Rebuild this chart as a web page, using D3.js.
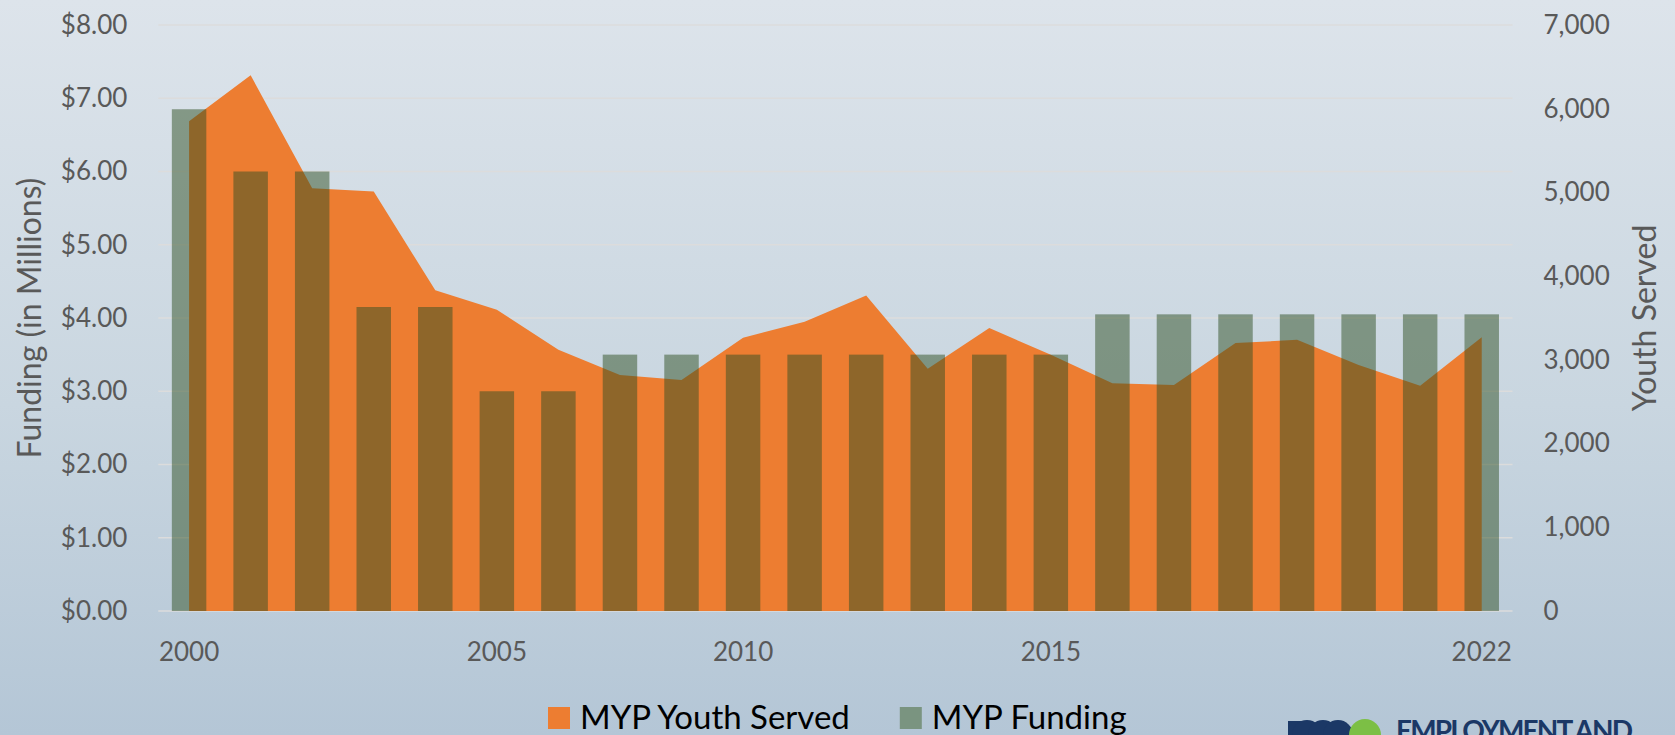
<!DOCTYPE html>
<head>
    <title>MYP Youth Served and Funding</title>
    <script src="https://cdnjs.cloudflare.com/ajax/libs/d3/7.8.5/d3.min.js"></script>
    <style>
        body { margin: 0; padding: 0; }
        svg { display: block; }
        .axis text { font-family: Lato, "Open Sans", sans-serif; font-size: 26px; fill: #595959; }
        .title { font-family: Lato, "Open Sans", sans-serif; font-size: 32px; fill: #595959; }
        .legend text { font-family: Lato, "Open Sans", sans-serif; font-size: 33px; fill: #000; }
    </style>
</head>
<body>
    <div id="chart"></div>
    <script type="text/javascript">
        // years on the category axis (one year missing between 2005 and 2010 in the source)
        const years = [2000, 2001, 2002, 2003, 2004, 2005, 2006, 2007, 2009, 2010, 2011,
                       2012, 2013, 2014, 2015, 2016, 2017, 2018, 2019, 2020, 2021, 2022];
        const tickYears = [2000, 2005, 2010, 2015, 2022];

        // MYP Youth Served (right axis)
        const youthServed = [5850, 6400, 5050, 5010, 3830, 3600, 3120, 2820, 2760, 3265, 3455,
                             3770, 2895, 3380, 3060, 2720, 2700, 3200, 3240, 2940, 2690, 3270];
        // MYP Funding in millions (left axis)
        const funding = [6.85, 6.00, 6.00, 4.15, 4.15, 3.00, 3.00, 3.50, 3.50, 3.50, 3.50,
                         3.50, 3.50, 3.50, 3.50, 4.05, 4.05, 4.05, 4.05, 4.05, 4.05, 4.05];

        const fundingTicks = [0, 1, 2, 3, 4, 5, 6, 7, 8];
        const youthTicks = [0, 1000, 2000, 3000, 4000, 5000, 6000, 7000];
        const seriesNames = ["MYP Youth Served", "MYP Funding"];

        const width = 1675;
        const height = 735;
        const plotLeft = 158.3;
        const plotRight = 1512.5;
        const plotTop = 25;
        const plotBottom = 611;

        const orange = "#ED7D31";
        const green = "rgb(48,80,35)";
        const navy = "#1b3866";

        const svg = d3.select("#chart")
            .append("svg")
            .attr("width", width)
            .attr("height", height);

        // background gradient
        const grad = svg.append("defs").append("linearGradient")
            .attr("id", "bg")
            .attr("x1", 0).attr("y1", 0).attr("x2", 0).attr("y2", 1);
        grad.append("stop").attr("offset", "0%").attr("stop-color", "#dde4eb");
        grad.append("stop").attr("offset", "55%").attr("stop-color", "#c9d6e0");
        grad.append("stop").attr("offset", "100%").attr("stop-color", "#b4c6d6");

        svg.append("rect")
            .attr("width", width)
            .attr("height", height)
            .attr("fill", "url(#bg)");

        // scales
        const xScale = d3.scaleBand()
            .domain(years)
            .range([plotLeft, plotRight])
            .paddingInner(0.44)
            .paddingOuter(0.22);
        const xMid = d => xScale(d) + xScale.bandwidth() / 2;

        const yLeft = d3.scaleLinear().domain([0, 8]).range([plotBottom, plotTop]);
        const yRight = d3.scaleLinear().domain([0, 7000]).range([plotBottom, plotTop]);

        // gridlines
        svg.append("g")
            .attr("class", "grid")
            .selectAll("line")
            .data(fundingTicks)
            .enter()
            .append("line")
            .attr("x1", plotLeft)
            .attr("x2", plotRight)
            .attr("y1", d => yLeft(d))
            .attr("y2", d => yLeft(d))
            .attr("stroke", "#dcdcdc")
            .attr("stroke-width", 1.5);

        // youth served area
        const area = d3.area()
            .x((d, i) => xMid(years[i]))
            .y0(yRight(0))
            .y1(d => yRight(d));

        svg.append("path")
            .datum(youthServed)
            .attr("d", area)
            .attr("fill", orange);

        // funding bars
        svg.append("g")
            .attr("class", "bars")
            .selectAll("rect")
            .data(funding)
            .enter()
            .append("rect")
            .attr("x", (d, i) => xScale(years[i]))
            .attr("y", d => yLeft(d))
            .attr("width", xScale.bandwidth())
            .attr("height", d => yLeft(0) - yLeft(d))
            .attr("fill", green)
            .attr("fill-opacity", 0.5);

        // axes
        const leftAxis = d3.axisLeft(yLeft)
            .tickValues(fundingTicks)
            .tickFormat(d3.format("$.2f"))
            .tickSize(0)
            .tickPadding(31);
        svg.append("g")
            .attr("class", "axis y-left")
            .attr("transform", "translate(" + plotLeft + ",0)")
            .call(leftAxis)
            .call(g => g.select(".domain").remove());

        const rightAxis = d3.axisRight(yRight)
            .tickValues(youthTicks)
            .tickFormat(d3.format(","))
            .tickSize(0)
            .tickPadding(31);
        svg.append("g")
            .attr("class", "axis y-right")
            .attr("transform", "translate(" + plotRight + ",0)")
            .call(rightAxis)
            .call(g => g.select(".domain").remove());

        const bottomAxis = d3.axisBottom(xScale)
            .tickValues(tickYears)
            .tickSize(0)
            .tickPadding(32);
        svg.append("g")
            .attr("class", "axis x")
            .attr("transform", "translate(0," + plotBottom + ")")
            .call(bottomAxis)
            .call(g => g.select(".domain").remove());

        // axis titles
        svg.append("text")
            .attr("class", "title")
            .attr("transform", "translate(30," + (plotTop + plotBottom) / 2 + ") rotate(-90)")
            .attr("text-anchor", "middle")
            .attr("dy", "0.35em")
            .text("Funding (in Millions)");

        svg.append("text")
            .attr("class", "title")
            .attr("transform", "translate(1645," + (plotTop + plotBottom) / 2 + ") rotate(-90)")
            .attr("text-anchor", "middle")
            .attr("dy", "0.35em")
            .text("Youth Served");

        // legend
        const legend = svg.append("g").attr("class", "legend");
        const legendColors = [orange, "#7a9480"];
        let lx = 548;
        seriesNames.forEach((name, i) => {
            legend.append("rect")
                .attr("x", lx)
                .attr("y", 707)
                .attr("width", 22)
                .attr("height", 22)
                .attr("fill", legendColors[i]);
            const t = legend.append("text")
                .attr("x", lx + 32)
                .attr("y", 729)
                .text(name);
            lx = lx + 32 + t.node().getComputedTextLength() + 50;
        });

        // logo (cut off at the bottom edge, as in the original)
        const logo = svg.append("g").attr("class", "logo");
        logo.append("rect")
            .attr("x", 1288).attr("y", 721).attr("width", 14).attr("height", 20)
            .attr("fill", navy);
        [1307, 1323, 1338].forEach(cx => {
            logo.append("circle")
                .attr("cx", cx).attr("cy", 735).attr("r", 15)
                .attr("fill", navy);
        });
        logo.append("circle")
            .attr("cx", 1365).attr("cy", 735).attr("r", 16)
            .attr("fill", "#7cbf45");
        logo.append("text")
            .attr("x", 1396)
            .attr("y", 741)
            .attr("textLength", 237)
            .attr("lengthAdjust", "spacing")
            .style("font-family", "Lato, sans-serif")
            .style("font-weight", "700")
            .style("font-size", "28px")
            .style("fill", navy)
            .text("EMPLOYMENT AND");
    </script>
</body>
